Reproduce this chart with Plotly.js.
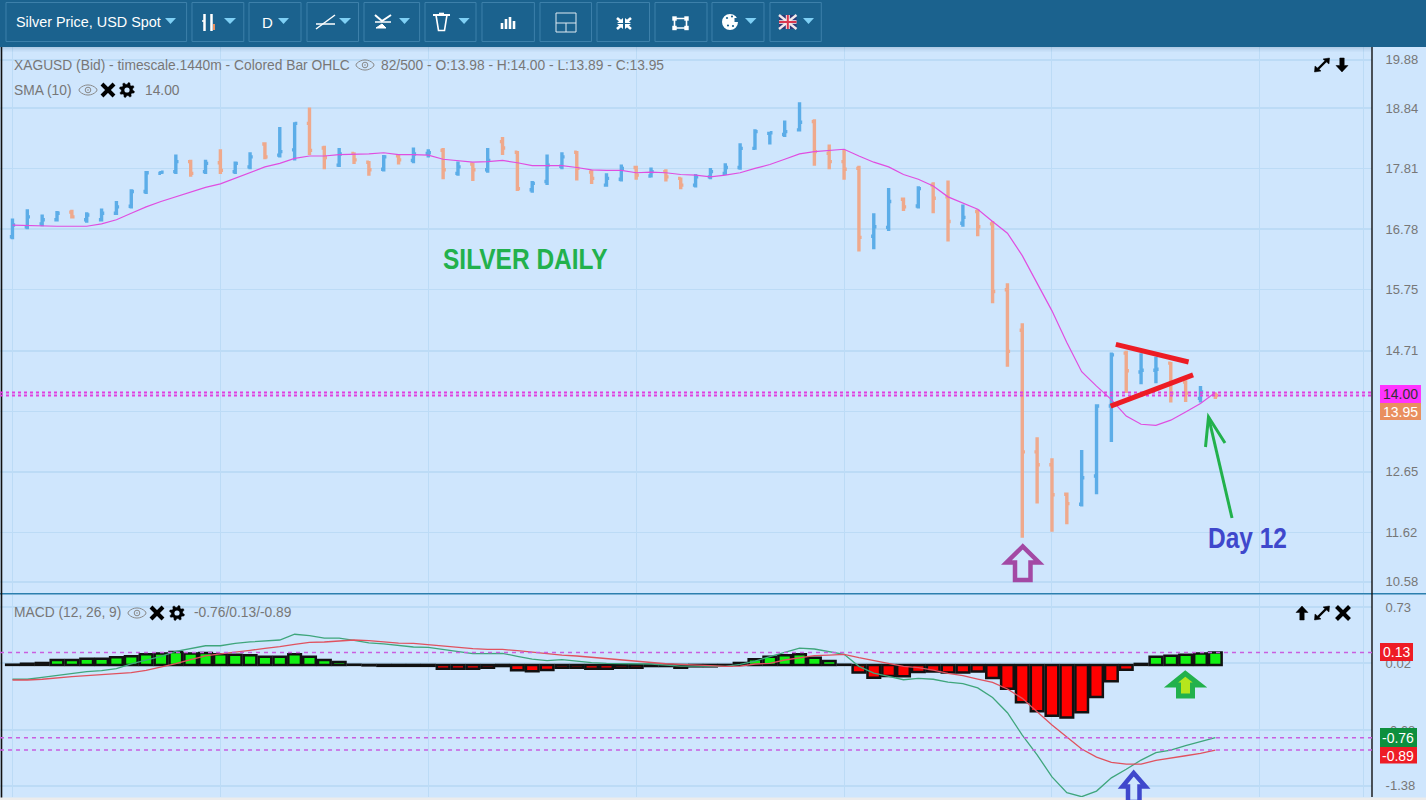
<!DOCTYPE html>
<html>
<head>
<meta charset="utf-8">
<script src="https://cdn.plot.ly/plotly-3.0.1.min.js"></script>
<style>html,body{margin:0;padding:0;background:#cfe6fd;overflow:hidden}#chart{width:1426px;height:800px}</style>
</head>
<body>
<div id="chart"></div>
<script>
const opens=[16.65,16.82,16.87,16.94,17.07,16.94,16.94,17.05,17.17,17.42,
17.73,17.76,17.93,17.76,17.91,17.76,17.84,18.23,18.04,18.13,
18.58,18.16,17.87,18.07,17.92,17.80,18.03,17.95,18.07,18.12,
17.73,17.89,17.79,18.27,18.09,17.45,17.59,17.85,18.09,17.75,
17.53,17.63,17.83,17.685,17.76,17.645,17.53,17.67,17.73,17.83,
18.155,18.41,18.39,18.47,18.61,18.07,17.93,17.815,16.66,16.81,
17.29,17.175,17.53,17.33,16.88,17.08,16.87,15.75,15.06,12.99,
12.77,12.27,12.10,12.58,13.77,14.67,14.35,14.38,14.50,14.18,
13.90,13.98];
const highs=[16.96,17.12,17.03,17.09,17.11,17.07,17.13,17.26,17.46,17.77,
17.77,18.05,17.96,17.96,18.14,17.93,18.09,18.26,18.52,18.60,
18.85,18.20,18.16,18.09,17.94,18.04,18.04,18.17,18.14,18.16,
17.93,17.91,18.16,18.35,18.11,17.60,18.05,18.09,18.11,17.79,
17.73,17.88,17.86,17.83,17.80,17.66,17.72,17.82,17.90,18.24,
18.48,18.43,18.63,18.94,18.65,18.22,18.13,17.86,17.05,17.48,
17.32,17.51,17.58,17.61,17.20,17.12,16.92,15.86,15.18,13.24,
12.88,12.30,13.02,13.80,14.68,14.71,14.67,14.61,14.52,14.21,
14.11,14.00];
const lows=[16.61,16.78,16.83,16.91,16.96,16.89,16.91,17.02,17.13,17.38,
17.72,17.72,17.67,17.72,17.72,17.72,17.80,17.97,18.00,17.95,
18.04,17.80,17.84,17.89,17.69,17.76,17.88,17.90,18.00,17.63,
17.69,17.60,17.74,18.04,17.43,17.40,17.53,17.80,17.61,17.55,
17.50,17.59,17.62,17.66,17.59,17.46,17.49,17.63,17.70,17.79,
18.13,18.22,18.35,18.44,17.86,17.80,17.62,16.40,16.44,16.75,
17.09,17.13,17.05,16.57,16.82,16.66,15.52,14.44,11.53,12.11,
11.63,11.76,12.06,12.27,13.16,13.99,14.14,14.16,13.83,13.84,
13.83,13.89];
const closes=[16.85,16.99,16.94,17.05,16.99,17.02,17.05,17.16,17.42,17.74,
17.75,17.93,17.73,17.90,17.78,17.90,18.01,18.01,18.10,18.58,
18.12,18.00,18.06,17.96,17.79,18.01,17.96,18.06,18.08,17.79,
17.84,17.79,17.95,18.16,17.47,17.56,17.87,18.01,17.815,17.645,
17.645,17.815,17.70,17.76,17.67,17.53,17.67,17.76,17.83,18.155,
18.44,18.42,18.44,18.60,18.10,17.93,17.80,16.64,16.82,17.25,
17.16,17.47,17.305,16.91,16.98,16.82,15.72,14.70,12.99,12.77,
12.26,12.11,12.55,13.77,14.64,14.37,14.38,14.395,13.99,13.99,
14.01,13.95];
const sma10=[16.85,16.84,16.83,16.83,16.83,16.83,16.87,16.94,17.05,17.16,
17.25,17.33,17.40,17.49,17.55,17.645,17.75,17.84,17.90,17.985,
18.025,18.025,18.05,18.05,18.06,18.08,18.05,18.05,18.04,17.97,
17.94,17.92,17.93,17.95,17.91,17.86,17.86,17.86,17.83,17.79,
17.78,17.78,17.74,17.75,17.74,17.71,17.70,17.67,17.70,17.74,
17.815,17.88,17.97,18.06,18.10,18.12,18.14,18.025,17.92,17.84,
17.71,17.63,17.515,17.33,17.23,17.12,16.91,16.71,16.33,15.86,
15.39,14.85,14.355,14.11,13.88,13.60,13.46,13.44,13.53,13.67,
13.815,14.00];
const macdLine=[-0.15,-0.15,-0.13,-0.11,-0.09,-0.07,-0.06,-0.04,0.01,0.05,
0.09,0.14,0.17,0.20,0.20,0.225,0.24,0.25,0.26,0.32,
0.305,0.28,0.28,0.256,0.23,0.22,0.20,0.187,0.183,0.162,
0.134,0.117,0.117,0.12,0.09,0.06,0.044,0.054,0.04,0.023,
0.016,0.016,0.016,0.009,-0.001,-0.012,-0.012,-0.015,-0.015,0.006,
0.04,0.086,0.127,0.176,0.166,0.138,0.11,-0.015,-0.085,-0.12,
-0.155,-0.14,-0.15,-0.18,-0.196,-0.24,-0.34,-0.50,-0.733,-0.94,
-1.17,-1.335,-1.377,-1.318,-1.18,-1.09,-0.994,-0.917,-0.89,-0.844,
-0.80,-0.76];
const signalLine=[-0.158,-0.158,-0.15,-0.134,-0.123,-0.113,-0.10,-0.092,-0.08,-0.057,
-0.026,0.012,0.054,0.093,0.114,0.131,0.152,0.173,0.19,0.215,
0.235,0.239,0.253,0.26,0.253,0.239,0.228,0.225,0.211,0.194,
0.18,0.169,0.162,0.162,0.148,0.131,0.114,0.103,0.093,0.079,
0.061,0.054,0.04,0.023,0.012,0.006,0.002,-0.008,-0.015,-0.012,
0.009,0.016,0.051,0.075,0.096,0.103,0.11,0.075,0.044,0.009,
-0.015,-0.029,-0.054,-0.089,-0.113,-0.148,-0.183,-0.252,-0.35,-0.489,
-0.628,-0.754,-0.879,-0.963,-1.018,-1.036,-1.036,-0.998,-0.977,-0.949,
-0.924,-0.89];
const histogram=[0.002,0.012,0.02,0.05,0.05,0.065,0.065,0.08,0.09,0.11,
0.12,0.135,0.12,0.125,0.11,0.105,0.10,0.085,0.085,0.11,
0.085,0.05,0.03,0.002,-0.005,-0.01,-0.01,-0.01,-0.01,-0.04,
-0.04,-0.04,-0.03,-0.012,-0.055,-0.067,-0.053,-0.03,-0.03,-0.04,
-0.04,-0.03,-0.03,-0.012,-0.012,-0.03,-0.015,-0.015,-0.005,0.02,
0.06,0.085,0.10,0.11,0.075,0.04,0.002,-0.08,-0.135,-0.115,
-0.12,-0.075,-0.07,-0.08,-0.08,-0.07,-0.137,-0.25,-0.39,-0.485,
-0.53,-0.55,-0.495,-0.335,-0.17,-0.05,0.01,0.085,0.095,0.105,
0.12,0.13];
const priceTickVals=[19.66,18.84,17.81,16.78,15.75,14.71,13.68,12.65,11.62,10.78];
const priceTickText=['19.88','18.84','17.81','16.78','15.75','14.71','13.68','12.65','11.62','10.58'];
const macdTickVals=[0.605,0.02,-0.68,-1.263];
const macdTickText=['0.73','0.02','-0.68','-1.38'];
const timeGrid=[0,14,28,42,56,70,84,91];
const priceLevels=[14.00,13.95];
const macdLevels=[0.13,-0.76,-0.89];
const barIndex=opens.map((_,i)=>i);

const FONT='"Liberation Sans",Arial,sans-serif';
const BG='#cfe6fd',GRID='#bcdbf6',INK='#000000',GREY='#777777',TB='#1b628e',TBB='#3d80aa',CARET='#7fd0f5';
const W=1372,T=47,B=797;
const px=x=>+(x/W).toFixed(5), py=y=>+((B-y)/(B-T)).toFixed(5);
const shapes=[],ann=[];
const rect=(x0,y0,x1,y1,fill,lw,lc)=>shapes.push({type:'rect',xref:'paper',yref:'paper',x0:px(x0),x1:px(x1),y0:py(y0),y1:py(y1),fillcolor:fill||'rgba(0,0,0,0)',line:{width:lw||0,color:lc||'rgba(0,0,0,0)'},layer:'above'});
const path=(pts,o)=>{o=o||{};const d=pts.map((p,i)=>(i?'L':'M')+px(p[0])+' '+py(p[1])).join(' ')+(o.close?' Z':'');
  shapes.push({type:'path',xref:'paper',yref:'paper',path:d,fillcolor:o.fill||'rgba(0,0,0,0)',line:{width:o.w===undefined?1:o.w,color:o.c||'rgba(0,0,0,0)',dash:'solid'},layer:'above'});};
const circle=(cx,cy,r,fill,lw,lc)=>shapes.push({type:'circle',xref:'paper',yref:'paper',x0:px(cx-r),x1:px(cx+r),y0:py(cy-r),y1:py(cy+r),fillcolor:fill||'rgba(0,0,0,0)',line:{width:lw||0,color:lc||'rgba(0,0,0,0)'},layer:'above'});
const txt=(t,x,y,size,color,o)=>{o=o||{};ann.push({text:t,xref:'paper',yref:'paper',x:px(x),y:py(y),xanchor:o.anchor||'left',yanchor:'middle',showarrow:false,borderpad:0,font:{family:FONT,size:size,color:color}});};

// panes
rect(0,593,1426,594.6,'#2c7fae');
path([[1.5,47],[1.5,800]],{w:1.6,c:'#111'});
path([[1372,47],[1372,797]],{w:1.4,c:'#111'});
rect(0,797.5,1426,800,'#ececec');

// price and MACD reference levels
priceLevels.forEach(v=>shapes.push({type:'line',xref:'paper',yref:'y',x0:0,x1:1,y0:v,y1:v,line:{color:'#e040e0',width:2,dash:'3px,3px'},layer:'above'}));
macdLevels.forEach(v=>shapes.push({type:'line',xref:'paper',yref:'y2',x0:0,x1:1,y0:v,y1:v,line:{color:'#c95fe0',width:1.5,dash:'4px,4px'},layer:'above'}));

// drawn trend lines
const trendRed=[[74.3,14.82,79.2,14.52],[73.95,13.77,79.5,14.30]];
trendRed.forEach(t=>shapes.push({type:'line',xref:'x',yref:'y',x0:t[0],y0:t[1],x1:t[2],y1:t[3],line:{color:'#ed1c24',width:5},layer:'above'}));

// value tags
const tag=(x0,x1,y0,y1,fill,t,color)=>{rect(x0,y0,x1,y1,fill);txt(t,(x0+x1)/2,(y0+y1)/2+0.5,14,color,{anchor:'center'});};
tag(1380,1421,385,403,'#ff33ff','14.00','#333');
tag(1380,1421,403,420,'#e98f5f','13.95','#fff');
tag(1380,1413,643,661,'#ee1c25','0.13','#fff');
tag(1380,1417,728,747,'#0e8f3e','-0.76','#fff');
tag(1380,1417,747,763.5,'#ee1c25','-0.89','#fff');

// hand-drawn arrows
path([[1232,518],[1208.5,417]],{w:3,c:'#22b14c'});
path([[1205.5,447],[1208.5,417],[1225,443]],{w:3,c:'#22b14c'});
path([[1022.7,546.5],[1006.5,562.5],[1015,562.5],[1015,580],[1030.5,580],[1030.5,562.5],[1039,562.5]],{w:4.5,c:'#a349a4',close:true});
path([[1185.3,673.5],[1171,685],[1178.5,685],[1178.5,696],[1192.5,696],[1192.5,685],[1200,685]],{w:5,c:'#22b14c',fill:'#b5e61d',close:true});
path([[1133.7,773],[1122.5,786.5],[1128,786.5],[1128,802],[1139.5,802],[1139.5,786.5],[1145.5,786.5]],{w:4.5,c:'#3f48cc',fill:BG,close:true});

// pane texts
txt('XAGUSD (Bid) - timescale.1440m - Colored Bar OHLC',13,65.7,13.8,GREY);
txt('82/500 - O:13.98 - H:14.00 - L:13.89 - C:13.95',380,65.7,13.8,GREY);
txt('SMA (10)',13,90.7,13.8,GREY);
txt('14.00',144.5,90.7,13.8,GREY);
txt('MACD (12, 26, 9)',13,612.7,13.8,GREY);
txt('-0.76/0.13/-0.89',192.5,612.7,13.8,GREY);
const bannerTexts=['SILVER DAILY','Day 12'];
txt('<b>'+bannerTexts[0]+'</b>',442.5,258.5,29.5,'#22b14c');
txt('<b>'+bannerTexts[1]+'</b>',1207.5,537.5,29.5,'#3f48cc');

// icons
const eye=(cx,cy)=>{const e=[];for(let a=0;a<=24;a++){const t=a/24*2*Math.PI;e.push([cx+9*Math.cos(t),cy+4.4*Math.sin(t)*(1-0.15*Math.cos(2*t))]);}
  path(e,{w:1,c:'#888',close:true});circle(cx,cy,2.8,null,1,'#888');circle(cx,cy,0.8,'#888');};
const xIcon=(cx,cy,r)=>{path([[cx-r,cy-r],[cx+r,cy+r]],{w:4,c:INK});path([[cx+r,cy-r],[cx-r,cy+r]],{w:4,c:INK});};
const gear=(cx,cy)=>{const g=[];const n=8;for(let i=0;i<n*4;i++){const a=i/(n*4)*2*Math.PI+0.2;const r=[7.6,7.6,5.6,5.6][i%4];g.push([cx+r*Math.cos(a),cy+r*Math.sin(a)]);}
  path(g,{fill:INK,close:true,w:0.5,c:INK});circle(cx,cy,2.6,BG);};
const expand=(cx,cy)=>{path([[cx-4,cy+4],[cx+4,cy-4]],{w:2.4,c:INK});
  path([[cx+7.5,cy-7],[cx+7,cy-1],[cx+1,cy-6]],{fill:INK,close:true,w:0.5,c:INK});
  path([[cx-7.5,cy+7],[cx-7,cy+1],[cx-1,cy+6]],{fill:INK,close:true,w:0.5,c:INK});};
const arrowV=(cx,cy,dir)=>{const s=dir;path([[cx,cy+7*s],[cx-6,cy+0.5*s],[cx-2.2,cy+0.5*s],[cx-2.2,cy-7*s],[cx+2.2,cy-7*s],[cx+2.2,cy+0.5*s],[cx+6,cy+0.5*s]],{fill:INK,close:true,w:0.5,c:INK});};
eye(365,65);
eye(88,90);xIcon(108,90,6);gear(127,90);
eye(137,613);xIcon(157,613,6);gear(177,613);
expand(1322,65);arrowV(1342,65,1);
arrowV(1302,613,-1);expand(1322,613);xIcon(1343,613,6.5);

// toolbar
rect(0,0,1426,47,TB);
[0.16,0.09,0.04].forEach((a,i)=>rect(0,47+i*1.6,1372,47+(i+1)*1.6,'rgba(30,70,110,'+a+')'));
const buttons=[[6,186.6],[192,243.8],[249,301],[307,358.5],[364,419.6],[425,476],[482,534.4],[540,591.5],[597,649.5],[655,707],[712,764],[770,821.3]];
buttons.forEach(b=>rect(b[0],2.5,b[1],41.5,null,1,TBB));
[[165,176],[224,236],[278,289],[339,351],[399,410],[458.5,469.6],[745,756.5],[803,814]].forEach(c=>path([[c[0],18],[c[1],18],[(c[0]+c[1])/2,24]],{fill:CARET,close:true}));
txt('Silver Price, USD Spot',14.5,22,14.4,'#fff');
txt('D',260.5,22,15,'#fff');
const W2='#ffffff';
// candle icon
path([[204.5,14],[204.5,31]],{w:2.5,c:W2});path([[211.5,14],[211.5,31]],{w:2.5,c:W2});path([[214,24],[214,30]],{w:2,c:'#e98f5f'});path([[202,21],[204,21]],{w:1.5,c:W2});
// line tool
path([[316,29],[335,15]],{w:1.5,c:W2});path([[316,24],[335,24]],{w:1.5,c:W2});
// scribble tool
path([[375,15],[382,21],[391,15]],{w:2,c:W2});path([[375,22],[391,22]],{w:1.5,c:W2});path([[376,28],[382,24],[386,28]],{fill:W2,close:true,w:1,c:W2});
// trash
path([[433,15],[450,15]],{w:2,c:W2});path([[436,15],[438.5,30.5],[444.5,30.5],[447,15]],{w:1.6,c:W2});path([[439,13.5],[444,13.5]],{w:1.6,c:W2});
// bar icon
[[502,23,29],[506,19,29],[510,17,29],[514,21,29]].forEach(b=>path([[b[0],b[1]],[b[0],b[2]]],{w:2.6,c:W2}));
// crosshair box
rect(556,13,576,32,null,1,'#dfeaf2');
path([[556,23],[576,23]],{w:1,c:'#dfeaf2'});path([[566,23],[566,32]],{w:1,c:'#dfeaf2'});
// fullscreen in
[[617,18,1,1],[631,18,-1,1],[617,29,1,-1],[631,29,-1,-1]].forEach(a=>{path([[a[0],a[1]],[a[0]+3.5*a[2],a[1]+3*a[3]]],{w:2.6,c:W2});path([[a[0]+6*a[2],a[1]],[a[0]+6*a[2],a[1]+5*a[3]],[a[0],a[1]+5*a[3]]],{fill:W2,close:true});});
// frame
rect(674.5,18.5,686.5,28,null,1.6,W2);
[[674.5,18.5],[686.5,18.5],[674.5,28],[686.5,28]].forEach(c=>rect(c[0]-2.2,c[1]-2.2,c[0]+2.2,c[1]+2.2,W2));
// palette
circle(730,22,8,W2);
[[727,18],[732,16.5],[733,26],[728,25.5]].forEach(c=>circle(c[0],c[1],1.1,TB));rect(734.5,18,739,22,TB);
// flag
rect(779,15,796.5,29,'#2b3a78');
path([[779,15],[796.5,29]],{w:2.4,c:'#f4e9ea'});path([[796.5,15],[779,29]],{w:2.4,c:'#f4e9ea'});
rect(785.8,15,789.8,29,'#f4e9ea');rect(779,20.2,796.5,23.8,'#f4e9ea');
rect(786.8,15,788.8,29,'#d8384f');rect(779,21,796.5,23,'#d8384f');

const traces=[
 {type:'ohlc',x:barIndex,open:opens,high:highs,low:lows,close:closes,xaxis:'x',yaxis:'y',tickwidth:0.18,
  increasing:{line:{color:'#5cade8',width:3.4}},decreasing:{line:{color:'#efa98c',width:3.4}},hoverinfo:'skip'},
 {type:'scatter',mode:'lines',x:barIndex,y:sma10,xaxis:'x',yaxis:'y',line:{color:'#e04ee0',width:1.2},hoverinfo:'skip'},
 {type:'bar',x:barIndex,y:histogram,xaxis:'x',yaxis:'y2',width:0.85,
  marker:{color:histogram.map(v=>v>=0?'#12f012':'#ff0000'),line:{color:'#111',width:2.5}},hoverinfo:'skip'},
 {type:'scatter',mode:'lines',x:barIndex,y:macdLine,xaxis:'x',yaxis:'y2',line:{color:'#3fa67c',width:1.3},hoverinfo:'skip'},
 {type:'scatter',mode:'lines',x:barIndex,y:signalLine,xaxis:'x',yaxis:'y2',line:{color:'#e0525f',width:1.3},hoverinfo:'skip'}
];
const yCommon={side:'right',ticks:'outside',ticklen:10,tickcolor:BG,tickwidth:1,showline:false,zeroline:false,gridcolor:GRID,gridwidth:1.5,
  tickfont:{family:FONT,size:13,color:GREY},tickmode:'array',fixedrange:true};
const layout={
 width:1426,height:800,margin:{l:0,r:54,t:47,b:3,pad:0},paper_bgcolor:BG,plot_bgcolor:BG,showlegend:false,dragmode:false,hovermode:false,bargap:0,
 xaxis:{anchor:'y2',range:[-0.84,91.55],tickmode:'array',tickvals:timeGrid,ticktext:timeGrid.map(()=>''),showticklabels:false,ticks:'',gridcolor:GRID,gridwidth:1,zeroline:false,showline:false,fixedrange:true,rangeslider:{visible:false}},
 yaxis:Object.assign({},yCommon,{domain:[(B-593.5)/(B-T),1],range:[10.58,19.88],tickvals:priceTickVals,ticktext:priceTickText}),
 yaxis2:Object.assign({},yCommon,{domain:[0,(B-595)/(B-T)],range:[-1.38,0.73],tickvals:macdTickVals,ticktext:macdTickText}),
 shapes:shapes,annotations:ann
};
Plotly.newPlot('chart',traces,layout,{displayModeBar:false,staticPlot:true}).then(()=>{
  // The reference's hand-typed banners use a condensed bold face: narrow them about their left edge.
  document.querySelectorAll('.annotation-text').forEach(t=>{
    if(bannerTexts.includes(t.textContent)){
      const b=t.getBBox().x, e=t.getAttribute('transform')||'';
      t.setAttribute('transform',(e+' translate('+b+',0) scale(0.83,1) translate('+(-b)+',0)').trim());
    }
  });
});
</script>
</body>
</html>
